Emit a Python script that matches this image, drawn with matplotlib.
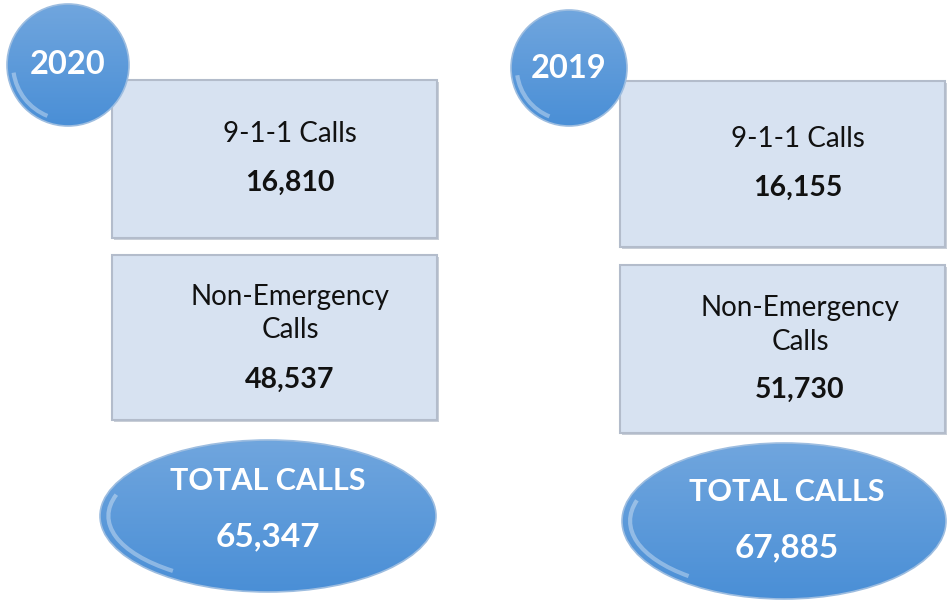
import numpy as np
import matplotlib.pyplot as plt
from matplotlib.patches import Circle, Ellipse, Rectangle, Arc

# data
years = ["2020", "2019"]
calls_911 = [16810, 16155]
non_emergency = [48537, 51730]
total_calls = [65347, 67885]

# layout of each panel (pixel coords, y down)
panels = [
    dict(circ=(68, 65, 61), box1=(112, 80, 437, 238), box2=(112, 255, 437, 420),
         ell=(268, 516, 336, 152), t1=(290, 134, 183), t2=(290, 297, 330, 380),
         tt=(268, 481, 537)),
    dict(circ=(569, 68, 58), box1=(620, 81, 945, 247), box2=(620, 265, 945, 433),
         ell=(784, 521, 324, 156), t1=(798, 139, 188), t2=(800, 308, 342, 390),
         tt=(787, 492, 548)),
]

plt.rcParams['font.family'] = ['Lato', 'DejaVu Sans']

fig = plt.figure(figsize=(9.48, 6.03), dpi=100)
ax = fig.add_axes([0, 0, 1, 1])
ax.set_xlim(0, 948)
ax.set_ylim(603, 0)
ax.axis('off')

BOX_FILL = '#d7e2f1'
BOX_EDGE = '#b3bccb'
TXT = '#111111'


def glossy(patch, x0, x1, y0, y1):
    # vertical blue gradient clipped to the shape
    ax.add_patch(patch)
    g = np.linspace(0, 1, 256).reshape(-1, 1)
    top = np.array([0.44, 0.65, 0.87])
    bot = np.array([0.29, 0.56, 0.84])
    img = top + (bot - top) * g[..., None]
    img = np.repeat(img, 2, axis=1)
    im = ax.imshow(img, extent=(x0, x1, y1, y0), aspect='auto', zorder=2,
                   interpolation='bilinear')
    im.set_clip_path(patch)


def box(b):
    x0, y0, x1, y1 = b
    ax.add_patch(Rectangle((x0 + 2, y0 + 2), x1 - x0, y1 - y0, fc='#c9cfd8',
                           ec='none', zorder=1))
    ax.add_patch(Rectangle((x0, y0), x1 - x0, y1 - y0, fc=BOX_FILL,
                           ec=BOX_EDGE, lw=1.5, zorder=1.5))


# y axis is inverted, so arc angles run clockwise on screen
for i, p in enumerate(panels):
    box(p['box1'])
    box(p['box2'])

    # year circle
    cx, cy, r = p['circ']
    glossy(Circle((cx, cy), r, fc='none', ec='none'), cx - r, cx + r, cy - r, cy + r)
    ax.add_patch(Circle((cx, cy), r, fc='none', ec='#9dbde0', lw=1.2, zorder=3))
    ax.add_patch(Arc((cx, cy), r * 1.8, r * 1.8, theta1=112, theta2=172,
                     ec='white', lw=3, alpha=0.35, zorder=3))
    ax.text(cx, cy, years[i], ha='center', va='center', fontsize=23.5,
            fontweight='bold', color='white', zorder=4)

    # total ellipse
    ex, ey, ew, eh = p['ell']
    glossy(Ellipse((ex, ey), ew, eh, fc='none', ec='none'),
           ex - ew / 2, ex + ew / 2, ey - eh / 2, ey + eh / 2)
    ax.add_patch(Ellipse((ex, ey), ew, eh, fc='none', ec='#9dbde0', lw=1.2, zorder=3))
    ax.add_patch(Arc((ex, ey), ew * 0.95, eh * 0.9, theta1=150, theta2=188,
                     ec='white', lw=3, alpha=0.35, zorder=3))
    tx, ty1, ty2 = p['tt']
    ax.text(tx, ty1, "TOTAL CALLS", ha='center', va='center', fontsize=22,
            fontweight='bold', color='white', zorder=4)
    ax.text(tx, ty2, f"{total_calls[i]:,}", ha='center', va='center', fontsize=24,
            fontweight='bold', color='white', zorder=4)

    # box texts
    x, y1, y2 = p['t1']
    ax.text(x, y1, "9-1-1 Calls", ha='center', va='center', fontsize=20, color=TXT, zorder=4)
    ax.text(x, y2, f"{calls_911[i]:,}", ha='center', va='center', fontsize=20.5,
            fontweight='bold', color=TXT, zorder=4)
    x, y1, y2, y3 = p['t2']
    ax.text(x, y1, "Non-Emergency", ha='center', va='center', fontsize=20, color=TXT, zorder=4)
    ax.text(x, y2, "Calls", ha='center', va='center', fontsize=20, color=TXT, zorder=4)
    ax.text(x, y3, f"{non_emergency[i]:,}", ha='center', va='center', fontsize=20.5,
            fontweight='bold', color=TXT, zorder=4)

fig.savefig('out.png', dpi=100)
